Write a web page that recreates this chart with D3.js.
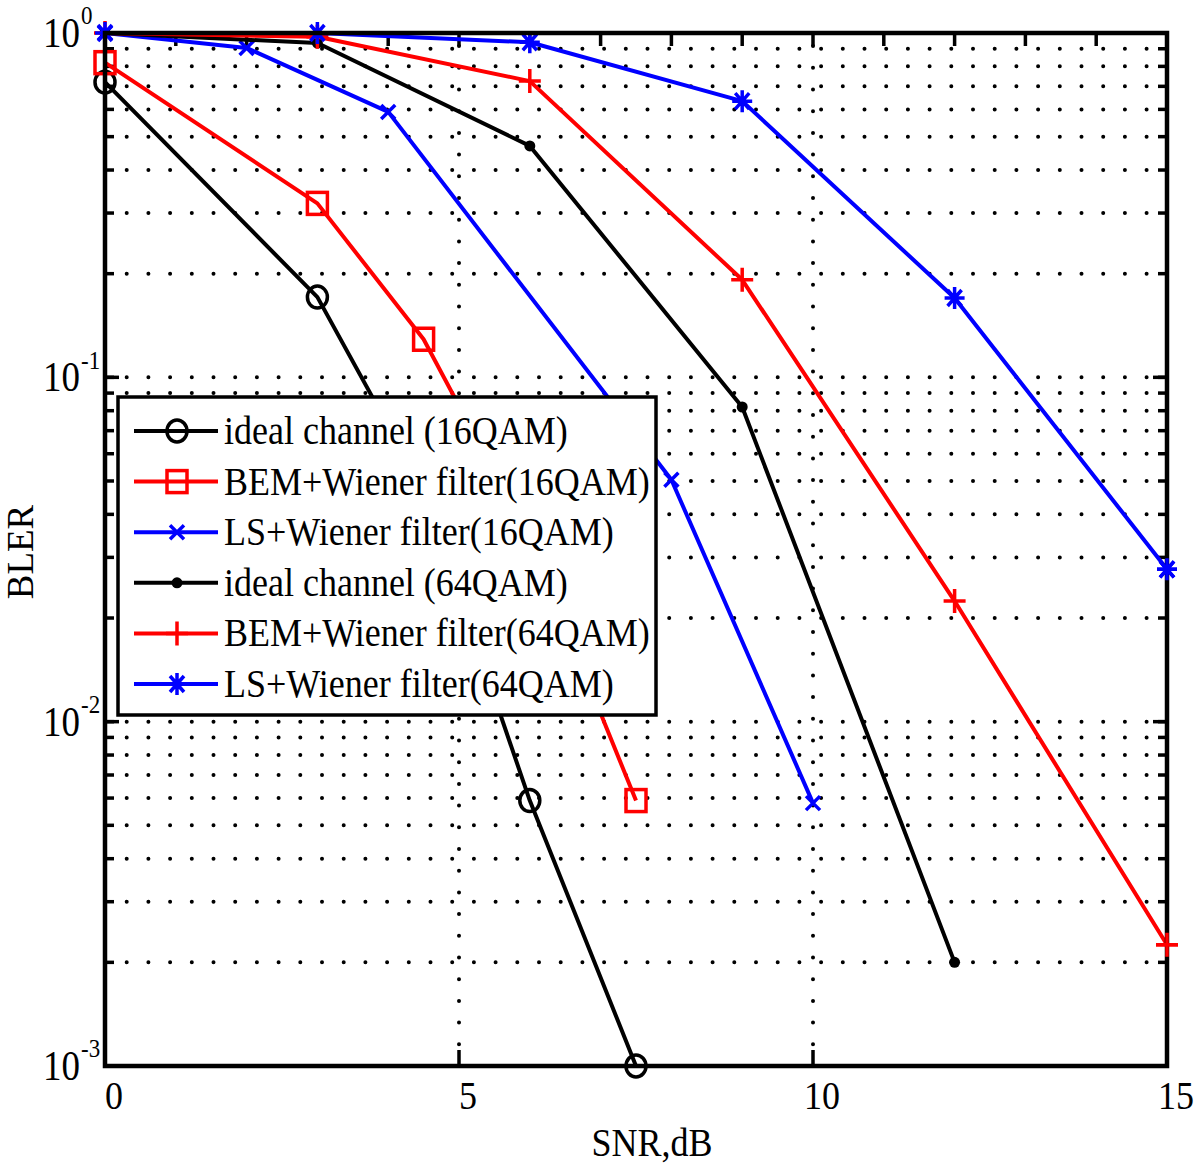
<!DOCTYPE html>
<html>
<head>
<meta charset="utf-8">
<script src="https://cdn.jsdelivr.net/npm/d3@7"></script>
<style>
  html, body { margin: 0; padding: 0; background: #fff; }
  svg { display: block; }
  text { font-family: "Liberation Serif", "Times New Roman", serif; fill: #000; }
</style>
</head>
<body>
<svg id="chart" width="1200" height="1167"></svg>
<script>
// ---- data ----
const snrIdeal16 = [0, 3, 4.5, 6, 7.5];
const blerIdeal16 = [0.72, 0.171, 0.047, 0.0059, 0.001];
const snrBem16 = [0, 3, 4.5, 6, 7.5];
const blerBem16 = [0.82, 0.32, 0.129, 0.034, 0.0059];
const snrLs16 = [0, 2, 4, 8, 10];
const blerLs16 = [1.0, 0.905, 0.59, 0.0504, 0.0058];
const snrIdeal64 = [0, 3, 6, 9, 12];
const blerIdeal64 = [1.0, 0.935, 0.47, 0.082, 0.002];
const snr64 = [0, 3, 6, 9, 12, 15];
const blerBem64 = [1.0, 0.975, 0.725, 0.192, 0.0224, 0.00225];
const blerLs64 = [1.0, 1.0, 0.94, 0.634, 0.170, 0.0277];

const seriesNames = [
  "ideal channel (16QAM)",
  "BEM+Wiener filter(16QAM)",
  "LS+Wiener filter(16QAM)",
  "ideal channel (64QAM)",
  "BEM+Wiener filter(64QAM)",
  "LS+Wiener filter(64QAM)"
];
const xTickValues = [0, 5, 10, 15];
const xMinorTickValues = d3.range(0, 16, 1);
const yTickExponents = [0, -1, -2, -3];
const xLabel = "SNR,dB";
const yLabel = "BLER";

const series = [
  { name: seriesNames[0], x: snrIdeal16, y: blerIdeal16, color: "#000000", marker: "circle" },
  { name: seriesNames[1], x: snrBem16, y: blerBem16, color: "#ff0000", marker: "square" },
  { name: seriesNames[2], x: snrLs16, y: blerLs16, color: "#0000ff", marker: "x" },
  { name: seriesNames[3], x: snrIdeal64, y: blerIdeal64, color: "#000000", marker: "dot" },
  { name: seriesNames[4], x: snr64, y: blerBem64, color: "#ff0000", marker: "plus" },
  { name: seriesNames[5], x: snr64, y: blerLs64, color: "#0000ff", marker: "star" }
];

// ---- layout ----
const L = 105, R = 1167, T = 33, B = 1066;
const SY = 1.13; // vertical stretch of text as in the reference
const svg = d3.select("#chart");
const x = d3.scaleLinear().domain([0, 15]).range([L, R]);
const y = d3.scaleLog().domain([1e-3, 1]).range([B, T]);

function stext(g, tx, ty, size, anchor) {
  return g.append("text")
    .attr("transform", `translate(${tx},${ty}) scale(1,${SY})`)
    .attr("font-size", size)
    .attr("text-anchor", anchor || "start");
}

// ---- grid ----
const gGrid = svg.append("g");
const gridY = [];
for (let e = -3; e < 0; e++) {
  for (let m = 1; m <= 9; m++) {
    const v = m * Math.pow(10, e);
    if (v > 1e-3 && v < 1) gridY.push(v);
  }
}
gGrid.selectAll("line.hg").data(gridY).enter().append("line")
  .attr("x1", L).attr("x2", R)
  .attr("y1", d => y(d)).attr("y2", d => y(d))
  .attr("stroke", "#000").attr("stroke-width", 4)
  .attr("stroke-linecap", "round").attr("stroke-dasharray", "0,21.7");
gGrid.selectAll("line.vg").data([5, 10]).enter().append("line")
  .attr("x1", d => x(d)).attr("x2", d => x(d))
  .attr("y1", B).attr("y2", T)
  .attr("stroke", "#000").attr("stroke-width", 4)
  .attr("stroke-linecap", "round").attr("stroke-dasharray", "0,21.7");

// ---- ticks ----
const gTicks = svg.append("g").attr("stroke", "#000").attr("stroke-width", 3.5);
gTicks.selectAll("line.ylm").data(gridY).enter().append("line")
  .attr("x1", L).attr("x2", L + 9).attr("y1", d => y(d)).attr("y2", d => y(d));
gTicks.selectAll("line.yrm").data(gridY).enter().append("line")
  .attr("x1", R).attr("x2", R - 9).attr("y1", d => y(d)).attr("y2", d => y(d));
const yMajor = yTickExponents.map(e => Math.pow(10, e));
gTicks.selectAll("line.ylM").data(yMajor).enter().append("line")
  .attr("x1", L).attr("x2", L + 14).attr("y1", d => y(d)).attr("y2", d => y(d));
gTicks.selectAll("line.yrM").data(yMajor).enter().append("line")
  .attr("x1", R).attr("x2", R - 14).attr("y1", d => y(d)).attr("y2", d => y(d));
gTicks.selectAll("line.xt").data(xMinorTickValues).enter().append("line")
  .attr("x1", d => x(d)).attr("x2", d => x(d)).attr("y1", T).attr("y2", T + 13);
gTicks.selectAll("line.xb").data(xTickValues).enter().append("line")
  .attr("x1", d => x(d)).attr("x2", d => x(d)).attr("y1", B).attr("y2", B - 16);

// ---- markers ----
function drawMarker(g, type, cx, cy, color) {
  const sw = 3.5;
  if (type === "circle") {
    g.append("ellipse").attr("cx", cx).attr("cy", cy).attr("rx", 10).attr("ry", 11)
      .attr("fill", "none").attr("stroke", color).attr("stroke-width", sw);
  } else if (type === "square") {
    g.append("rect").attr("x", cx - 10).attr("y", cy - 11).attr("width", 20).attr("height", 22)
      .attr("fill", "none").attr("stroke", color).attr("stroke-width", sw);
  } else if (type === "x") {
    g.append("path").attr("d", `M${cx-7},${cy-7}L${cx+7},${cy+7}M${cx-7},${cy+7}L${cx+7},${cy-7}`)
      .attr("stroke", color).attr("stroke-width", sw).attr("fill", "none");
  } else if (type === "dot") {
    g.append("circle").attr("cx", cx).attr("cy", cy).attr("r", 5.5).attr("fill", color);
  } else if (type === "plus") {
    g.append("path").attr("d", `M${cx-11},${cy}L${cx+11},${cy}M${cx},${cy-12}L${cx},${cy+12}`)
      .attr("stroke", color).attr("stroke-width", sw).attr("fill", "none");
  } else if (type === "star") {
    g.append("path").attr("d", `M${cx-10},${cy}L${cx+10},${cy}M${cx},${cy-11}L${cx},${cy+11}M${cx-7},${cy-8}L${cx+7},${cy+8}M${cx-7},${cy+8}L${cx+7},${cy-8}`)
      .attr("stroke", color).attr("stroke-width", sw).attr("fill", "none");
  }
}

// ---- series ----
const line = d3.line().x(d => x(d[0])).y(d => y(d[1]));
series.forEach(s => {
  const g = svg.append("g");
  const pts = s.x.map((v, i) => [v, s.y[i]]);
  g.append("path").datum(pts).attr("d", line)
    .attr("fill", "none").attr("stroke", s.color).attr("stroke-width", 4)
    .attr("stroke-linejoin", "round");
  pts.forEach(p => drawMarker(g, s.marker, x(p[0]), y(p[1]), s.color));
});

// ---- axes box ----
svg.append("rect").attr("x", L).attr("y", T).attr("width", R - L).attr("height", B - T)
  .attr("fill", "none").attr("stroke", "#000").attr("stroke-width", 4.5);
series.forEach(s => {
  s.x.forEach((v, i) => { if (v === 15) drawMarker(svg, s.marker, x(v), y(s.y[i]), s.color); });
});

// ---- tick labels ----
const gLab = svg.append("g");
xTickValues.forEach(v => {
  stext(gLab, x(v) + 9, 1109, 36, "middle").text(v);
});
yTickExponents.forEach(e => {
  const yy = y(Math.pow(10, e));
  const t = stext(gLab, 43, yy + 14, 37, "start");
  t.append("tspan").text("10");
  t.append("tspan").attr("font-size", 23).attr("dy", -20).attr("dx", 1).text(String(e));
});

// axis labels
stext(gLab, 652, 1156, 36, "middle").text(xLabel);
gLab.append("text").attr("transform", "translate(33,552) rotate(-90)")
  .attr("text-anchor", "middle").attr("font-size", 37).text(yLabel);

// ---- legend ----
const lg = svg.append("g");
const LX0 = 118, LY0 = 397, LX1 = 656, LY1 = 715;
lg.append("rect").attr("x", LX0).attr("y", LY0).attr("width", LX1 - LX0).attr("height", LY1 - LY0)
  .attr("fill", "#fff").attr("stroke", "#000").attr("stroke-width", 3.5);
const rowY = d3.scaleLinear().domain([0, 5]).range([431, 684]);
series.forEach((s, i) => {
  const cy = rowY(i);
  lg.append("line").attr("x1", 134).attr("x2", 218).attr("y1", cy).attr("y2", cy)
    .attr("stroke", s.color).attr("stroke-width", 4);
  drawMarker(lg, s.marker, 177, cy, s.color);
  stext(lg, 224, cy + 13, 36, "start").text(s.name);
});
</script>
</body>
</html>
